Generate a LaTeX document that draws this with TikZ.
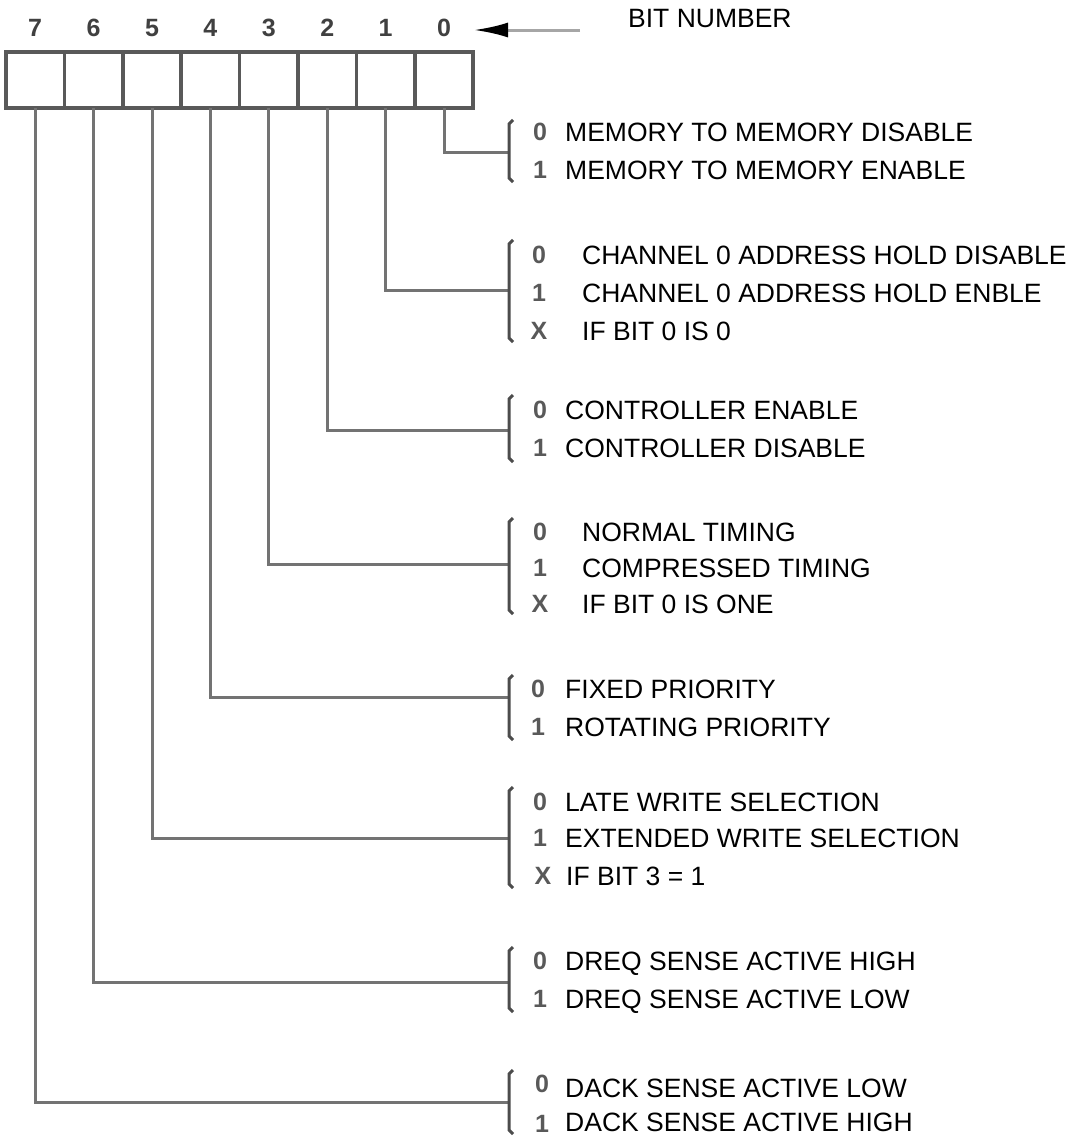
\documentclass[tikz,border=0pt]{standalone}
\usepackage{fontspec}
\setmainfont{Liberation Sans}
\usepackage{tikz}
\usetikzlibrary{positioning, arrows.meta}

\definecolor{regline}{gray}{0.35}
\definecolor{wiregray}{gray}{0.45}
\definecolor{brkgray}{gray}{0.3}

\tikzset{
  cell/.style={draw=regline, line width=3.5pt, minimum width=58.4pt, minimum height=56pt, inner sep=0pt, outer sep=0pt},
  bitno/.style={font=\bfseries\fontsize{25}{25}\selectfont, text=black!75},
  wire/.style={draw=wiregray, line width=3pt},
  brk/.style={draw=brkgray, line width=3pt},
  val/.style={font=\bfseries\fontsize{25}{25}\selectfont, text=black!65, inner sep=0pt},
  desc/.style={anchor=west, inner sep=0pt, text height=19pt, text depth=0pt, font=\fontsize{26.5}{30}\selectfont},
}

\begin{document}
\begin{tikzpicture}[x=1pt, y=-1pt]
\useasboundingbox (0,0) rectangle (1076,1138);
% register
\node[cell] (c7) at (35.2,80) {};
\node[cell, right=0pt of c7] (c6) {};
\node[cell, right=0pt of c6] (c5) {};
\node[cell, right=0pt of c5] (c4) {};
\node[cell, right=0pt of c4] (c3) {};
\node[cell, right=0pt of c3] (c2) {};
\node[cell, right=0pt of c2] (c1) {};
\node[cell, right=0pt of c1] (c0) {};
% bit numbers
\node[bitno] (n7) at (c7 |- 0,28) {7};
\node[bitno] (n6) at (c6 |- 0,28) {6};
\node[bitno] (n5) at (c5 |- 0,28) {5};
\node[bitno] (n4) at (c4 |- 0,28) {4};
\node[bitno] (n3) at (c3 |- 0,28) {3};
\node[bitno] (n2) at (c2 |- 0,28) {2};
\node[bitno] (n1) at (c1 |- 0,28) {1};
\node[bitno] (n0) at (c0 |- 0,28) {0};
\node[desc] (bitnum) at (628,17.5) {BIT NUMBER};
\coordinate (arrtail) at (580,30);
\coordinate (arrtip) at (474,30);
\draw[draw=black!35, line width=3pt, -{Latex[length=34pt, width=15pt, black]}] (arrtail) -- (arrtip);

% junctions on the brackets
\coordinate (j0) at (509,152);
\coordinate (j1) at (509,290);
\coordinate (j2) at (509,430);
\coordinate (j3) at (509,564);
\coordinate (j4) at (509,697);
\coordinate (j5) at (509,838);
\coordinate (j6) at (509,982);
\coordinate (j7) at (509,1102);
% wires
\draw[wire] (c0.south) |- (j0);
\draw[wire] (c1.south) |- (j1);
\draw[wire] (c2.south) |- (j2);
\draw[wire] (c3.south) |- (j3);
\draw[wire] (c4.south) |- (j4);
\draw[wire] (c5.south) |- (j5);
\draw[wire] (c6.south) |- (j6);
\draw[wire] (c7.south) |- (j7);
% brackets
\draw[brk] (513,120) -- (509,124) -- (509,178) -- (513,182);
\draw[brk] (513,240) -- (509,244) -- (509,338) -- (513,342);
\draw[brk] (513,395) -- (509,399) -- (509,458) -- (513,462);
\draw[brk] (513,518) -- (509,522) -- (509,610) -- (513,614);
\draw[brk] (513,675) -- (509,679) -- (509,736) -- (513,740);
\draw[brk] (513,787) -- (509,791) -- (509,884) -- (513,888);
\draw[brk] (513,947) -- (509,951) -- (509,1008) -- (513,1012);
\draw[brk] (513,1070) -- (509,1074) -- (509,1130) -- (513,1134);

% bit 0
\node[val] (v0a) at (540,132) {0};
\node[desc] (d0a) at (565,132) {MEMORY TO MEMORY DISABLE};
\node[val] (v0b) at (540,170) {1};
\node[desc] (d0b) at (565,170) {MEMORY TO MEMORY ENABLE};
% bit 1
\node[val] (v1a) at (539,255) {0};
\node[desc] (d1a) at (582,255) {CHANNEL 0 ADDRESS HOLD DISABLE};
\node[val] (v1b) at (539,293) {1};
\node[desc] (d1b) at (582,293) {CHANNEL 0 ADDRESS HOLD ENBLE};
\node[val] (v1c) at (539,331) {X};
\node[desc] (d1c) at (582,331) {IF BIT 0 IS 0};
% bit 2
\node[val] (v2a) at (540,410) {0};
\node[desc] (d2a) at (565,410) {CONTROLLER ENABLE};
\node[val] (v2b) at (540,448) {1};
\node[desc] (d2b) at (565,448) {CONTROLLER DISABLE};
% bit 3
\node[val] (v3a) at (540,532) {0};
\node[desc] (d3a) at (582,532) {NORMAL TIMING};
\node[val] (v3b) at (540,568) {1};
\node[desc] (d3b) at (582,568) {COMPRESSED TIMING};
\node[val] (v3c) at (540,604) {X};
\node[desc] (d3c) at (582,604) {IF BIT 0 IS ONE};
% bit 4
\node[val] (v4a) at (538,689) {0};
\node[desc] (d4a) at (565,689) {FIXED PRIORITY};
\node[val] (v4b) at (538,727) {1};
\node[desc] (d4b) at (565,727) {ROTATING PRIORITY};
% bit 5
\node[val] (v5a) at (540,802) {0};
\node[desc] (d5a) at (565,802) {LATE WRITE SELECTION};
\node[val] (v5b) at (540,838) {1};
\node[desc] (d5b) at (565,838) {EXTENDED WRITE SELECTION};
\node[val] (v5c) at (543,876) {X};
\node[desc] (d5c) at (566,876) {IF BIT 3 = 1};
% bit 6
\node[val] (v6a) at (540,961) {0};
\node[desc] (d6a) at (565,961) {DREQ SENSE ACTIVE HIGH};
\node[val] (v6b) at (540,999) {1};
\node[desc] (d6b) at (565,999) {DREQ SENSE ACTIVE LOW};
% bit 7
\node[val] (v7a) at (542,1084) {0};
\node[desc] (d7a) at (565,1088) {DACK SENSE ACTIVE LOW};
\node[val] (v7b) at (542,1124) {1};
\node[desc] (d7b) at (565,1122) {DACK SENSE ACTIVE HIGH};
\end{tikzpicture}
\end{document}
